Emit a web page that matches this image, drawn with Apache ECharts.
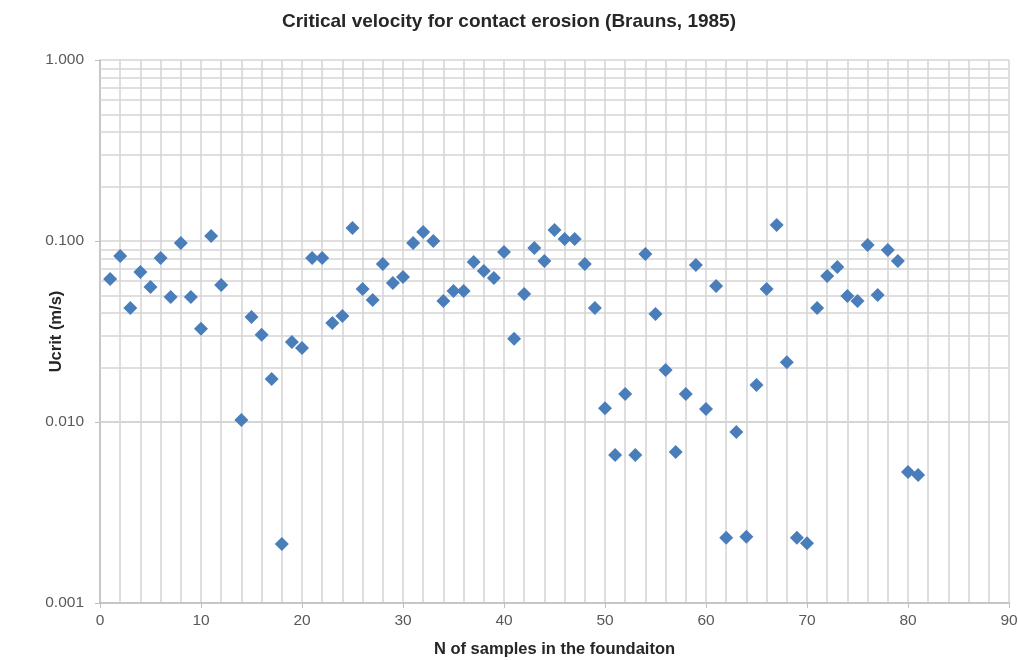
<!DOCTYPE html>
<html>
<head>
<meta charset="utf-8">
<script src="https://cdn.jsdelivr.net/npm/echarts@6/dist/echarts.min.js"></script>
<style>
  html, body { margin: 0; padding: 0; background: #fff; }
  #main { width: 1018px; height: 660px; }
</style>
</head>
<body>
<div id="main"></div>
<script>
// sample number (x) and critical velocity Ucrit in m/s (y); sample 13 has no point
var samples = [1, 2, 3, 4, 5, 6, 7, 8, 9, 10, 11, 12, 14, 15, 16, 17, 18, 19, 20,
    21, 22, 23, 24, 25, 26, 27, 28, 29, 30, 31, 32, 33, 34, 35, 36, 37, 38, 39, 40,
    41, 42, 43, 44, 45, 46, 47, 48, 49, 50, 51, 52, 53, 54, 55, 56, 57, 58, 59, 60,
    61, 62, 63, 64, 65, 66, 67, 68, 69, 70, 71, 72, 73, 74, 75, 76, 77, 78, 79, 80, 81];
var ucrit = [0.0617, 0.0826, 0.0427, 0.0674, 0.0557, 0.0805, 0.0490, 0.0975, 0.0490, 0.0327,
    0.1066, 0.0571, 0.01026, 0.0380, 0.0303, 0.0173, 0.00212, 0.0277, 0.0256,
    0.0805, 0.0805, 0.0352, 0.0385, 0.118, 0.0543, 0.0472, 0.0746, 0.0586, 0.0633,
    0.0975, 0.112, 0.100, 0.0466, 0.0530, 0.0530, 0.0766, 0.0683, 0.0625, 0.0869,
    0.0288, 0.0509, 0.0915, 0.0776, 0.115, 0.1026, 0.1026, 0.0746, 0.0427, 0.0119,
    0.00657, 0.0143, 0.00657, 0.0848, 0.0395, 0.0194, 0.00683, 0.0143, 0.0737, 0.0118,
    0.0564, 0.00229, 0.0088, 0.00232, 0.0160, 0.0543, 0.1226, 0.0214, 0.00229, 0.00214,
    0.0427, 0.0641, 0.0718, 0.0497, 0.0466, 0.0950, 0.0503, 0.0891, 0.0776, 0.0053, 0.0051];

var yMin = 0.001, yMax = 1;
var xMin = 0, xMax = 90, xStep = 10;

// minor horizontal gridlines: 2..9 in every decade
var minorY = [];
[0.001, 0.01, 0.1].forEach(function (d) {
    for (var k = 2; k <= 9; k++) minorY.push(+(d * k).toFixed(4));
});

var points = samples.map(function (s, i) { return [s, ucrit[i]]; });

var gridColor = '#d4d4d4';
var labelColor = '#595959';
var font = '"Liberation Sans", Arial, sans-serif';

var myChart = echarts.init(document.getElementById('main'));
var option = {
    backgroundColor: '#fff',
    animation: false,
    title: {
        text: 'Critical velocity for contact erosion (Brauns, 1985)',
        left: 'center',
        top: 7,
        textStyle: { fontFamily: font, fontSize: 19, fontWeight: 'bold', color: '#262626' }
    },
    grid: { left: 100, right: 9, top: 60, bottom: 57, outerBoundsMode: 'none' },
    xAxis: {
        type: 'value',
        min: xMin,
        max: xMax,
        interval: xStep,
        name: 'N of samples in the foundaiton',
        nameLocation: 'middle',
        nameGap: 38,
        nameMoveOverlap: false,
        nameTextStyle: { fontFamily: font, fontSize: 16.5, fontWeight: 'bold', color: '#262626' },
        axisLine: { lineStyle: { color: '#bfbfbf', width: 1.5 } },
        axisTick: { show: true, length: 5, lineStyle: { color: '#bfbfbf' } },
        axisLabel: { margin: 10, fontFamily: font, fontSize: 15.5, color: labelColor },
        splitLine: { show: true, lineStyle: { color: gridColor, width: 1.5 } },
        minorTick: { show: false, splitNumber: 5 },
        minorSplitLine: { show: true, lineStyle: { color: gridColor, width: 1.5 } }
    },
    yAxis: {
        type: 'log',
        logBase: 10,
        min: yMin,
        max: yMax,
        name: 'Ucrit (m/s)',
        nameLocation: 'middle',
        nameGap: 35,
        nameMoveOverlap: false,
        nameTextStyle: { fontFamily: font, fontSize: 16.5, fontWeight: 'bold', color: '#262626' },
        axisLine: { show: true, lineStyle: { color: '#bfbfbf', width: 1.5 } },
        axisTick: { show: true, length: 5, lineStyle: { color: '#bfbfbf' } },
        axisLabel: {
            margin: 16, fontFamily: font, fontSize: 15.5, color: labelColor,
            formatter: function (v) { return v.toFixed(3); }
        },
        splitLine: { show: true, lineStyle: { color: gridColor, width: 1.5 } }
    },
    series: [{
        type: 'scatter',
        symbol: 'diamond',
        symbolSize: 14,
        z: 5,
        itemStyle: { color: '#4a7ebb', opacity: 1 },
        data: points,
        markLine: {
            silent: true,
            z: 1,
            symbol: ['none', 'none'],
            label: { show: false },
            lineStyle: { color: gridColor, width: 1.5, type: 'solid' },
            data: minorY.map(function (v) { return { yAxis: v }; })
        }
    }]
};
myChart.setOption(option);
</script>
</body>
</html>
